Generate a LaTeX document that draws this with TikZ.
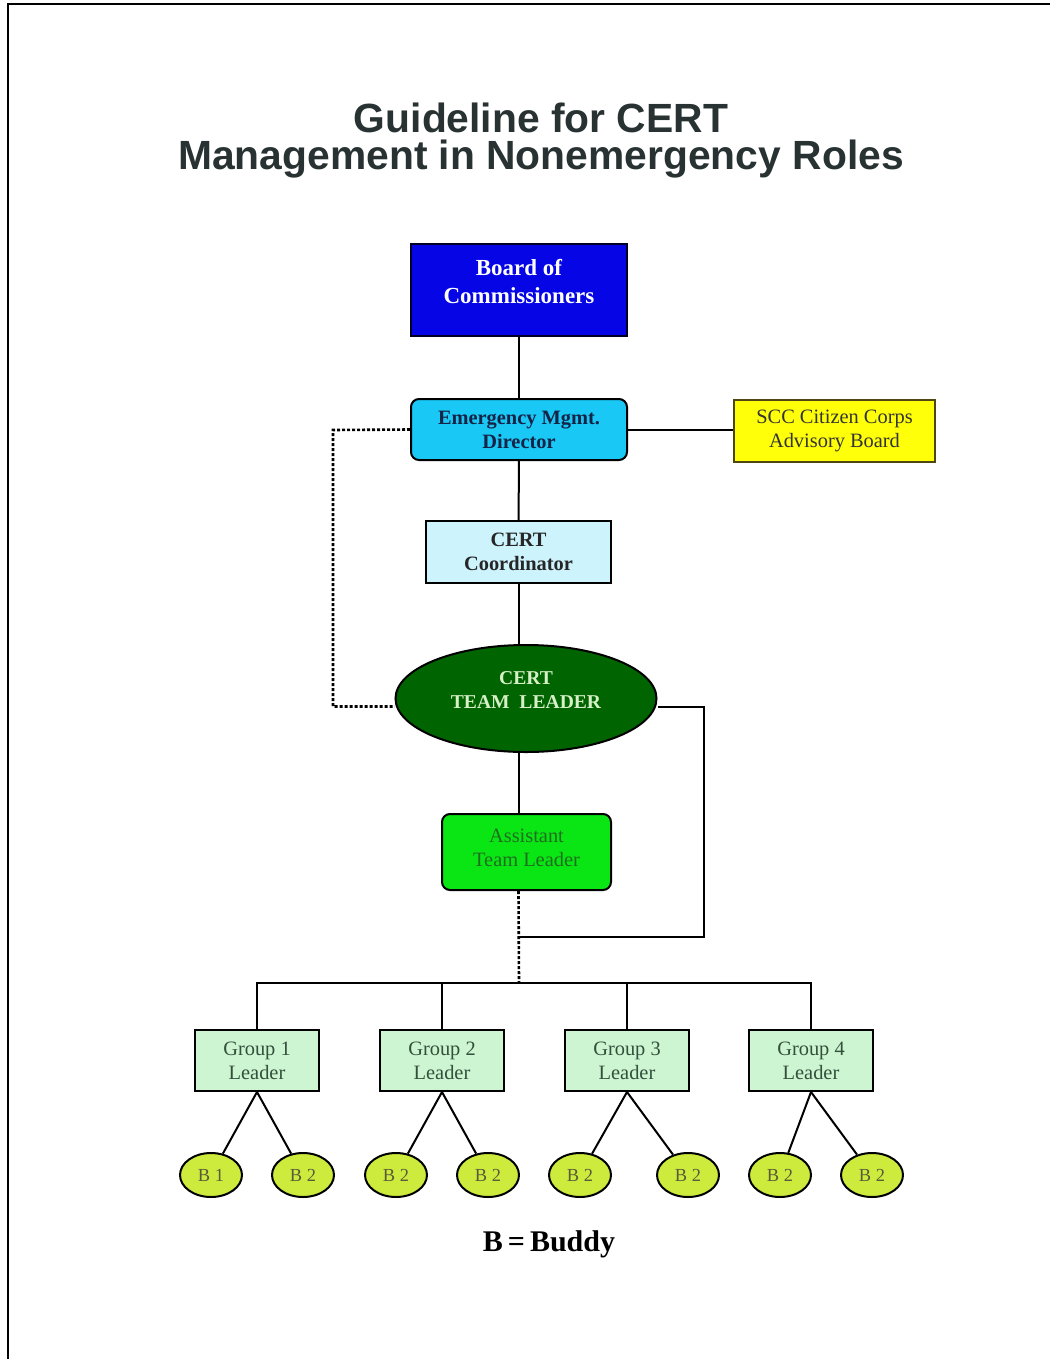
\documentclass[tikz,border=0pt]{standalone}
\usepackage{fontspec}
\setmainfont{Liberation Serif}
\newfontfamily\titlefont{Liberation Sans}
\usetikzlibrary{shapes.geometric}

\definecolor{titlegray}{RGB}{40,50,50}
\definecolor{boardblue}{RGB}{5,5,230}
\definecolor{emcyan}{RGB}{25,200,245}
\definecolor{navytext}{RGB}{20,35,70}
\definecolor{sccyellow}{RGB}{255,255,10}
\definecolor{sccborder}{RGB}{80,70,20}
\definecolor{coordcyan}{RGB}{205,243,252}
\definecolor{leadgreen}{RGB}{0,100,0}
\definecolor{leadtext}{RGB}{215,240,200}
\definecolor{asstgreen}{RGB}{10,230,20}
\definecolor{asstext}{RGB}{30,110,30}
\definecolor{groupgreen}{RGB}{205,245,210}
\definecolor{grouptext}{RGB}{50,80,60}
\definecolor{buddygreen}{RGB}{205,235,60}
\definecolor{buddytext}{RGB}{90,90,60}

\tikzset{
  box/.style={draw=black, line width=1pt, inner sep=0pt, align=center,
    font=\fontsize{10.2}{12}\selectfont},
  rbox/.style={box, rounded corners=4pt},
  grp/.style={box, fill=groupgreen, text=grouptext,
    minimum width=62pt, minimum height=30.5pt},
  buddy/.style={draw=black, line width=1pt, ellipse, inner sep=0pt,
    fill=buddygreen, text=buddytext, minimum width=31pt, minimum height=22pt,
    font=\fontsize{9.2}{11}\selectfont},
  link/.style={line width=1pt},
  dots/.style={line width=1.3pt, dash pattern=on 1.5pt off 1pt}
}

\begin{document}
\begin{tikzpicture}[x=0.5pt, y=-0.5pt]
\useasboundingbox (0,0) rectangle (1050,1359);

% Frame
\draw[line width=1pt] (8,1359) -- (8,4) -- (1050,4);

% Title
\node[titlegray, align=center, font=\titlefont\bfseries\fontsize{20.4}{18.5}\selectfont]
  (title) at (541,141) {Guideline for CERT\\Management in Nonemergency Roles};

% Top of the chart
\node[box, fill=boardblue, draw=black!85!blue, text=white, minimum width=108pt, minimum height=46pt,
  text depth=9pt, font=\bfseries\fontsize{11.5}{14}\selectfont]
  (board) at (519,290) {Board of\\Commissioners};
\node[rbox, fill=emcyan, text=navytext, minimum width=108pt, minimum height=30.5pt,
  font=\bfseries\fontsize{10.2}{12}\selectfont]
  (emd) at (519,429.5) {Emergency Mgmt.\\Director};
\node[box, fill=sccyellow, draw=sccborder, line width=1.4pt, text=black!80, minimum width=100.5pt, minimum height=31pt]
  (scc) at (834.5,431) {SCC Citizen Corps\\Advisory Board};
\node[box, fill=coordcyan, text=black!85, minimum width=92.5pt, minimum height=31pt,
  font=\bfseries\fontsize{10.2}{12}\selectfont]
  (coord) at (518.5,552) {CERT\\Coordinator};

% Team leaders
\node[box, ellipse, fill=leadgreen, text=leadtext, minimum width=130.5pt, minimum height=53.5pt,
  text depth=8pt, font=\bfseries\fontsize{9.8}{12}\selectfont]
  (tl) at (526,698.5) {CERT\\TEAM\enspace LEADER};
\node[rbox, fill=asstgreen, text=asstext, minimum width=84.5pt, minimum height=38pt,
  text depth=4pt]
  (atl) at (526.5,852) {Assistant\\Team Leader};

% Groups
\node[grp] (g1) at (257,1060.5) {Group 1\\Leader};
\node[grp] (g2) at (442,1060.5) {Group 2\\Leader};
\node[grp] (g3) at (627,1060.5) {Group 3\\Leader};
\node[grp] (g4) at (811,1060.5) {Group 4\\Leader};

% Buddies
\node[buddy] (b11) at (211,1175) {B 1};
\node[buddy] (b12) at (303,1175) {B 2};
\node[buddy] (b21) at (396,1175) {B 2};
\node[buddy] (b22) at (488,1175) {B 2};
\node[buddy] (b31) at (580,1175) {B 2};
\node[buddy] (b32) at (688,1175) {B 2};
\node[buddy] (b41) at (780,1175) {B 2};
\node[buddy] (b42) at (872,1175) {B 2};

\node[font=\bfseries\fontsize{15}{18}\selectfont] (key) at (549,1244) {B\,=\,Buddy};

% Helper points
\coordinate (bus) at (519,983);
\coordinate (rloop) at (704,937);
\coordinate (lloop) at (333,430);

% Chain of command
\draw[link] (board) -- (emd);
\draw[link] (emd) -- (scc.west |- emd);
\draw[link] (emd) -- (coord);
\draw[link] (coord.south) -- (coord.south |- tl.north);
\draw[link] (coord.south |- tl.south) -- (coord.south |- atl.north);
\draw[dots] (coord.south |- atl.south) -- (bus);
\draw[link] ([yshift=-4pt]tl.east) -| (rloop) -- (rloop -| bus);
\draw[dots] (emd.west) -- (lloop) |- ([yshift=-4pt]tl.west);

% Group bus
\draw[link] (g1.north) |- (bus) -| (g4.north);
\draw[link] (g2.north) -- (g2.north |- bus);
\draw[link] (g3.north) -- (g3.north |- bus);

% Buddy pairs
\foreach \g in {1,2,3,4}{
  \draw[link] (g\g.south) -- (b\g1);
  \draw[link] (g\g.south) -- (b\g2);
}

\end{tikzpicture}
\end{document}
